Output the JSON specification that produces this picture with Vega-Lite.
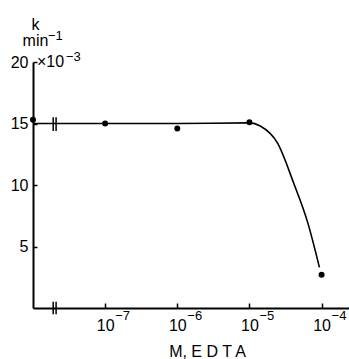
{
  "$schema": "https://vega.github.io/schema/vega-lite/v6.json",
  "width": 316,
  "height": 246,
  "autosize": "none",
  "padding": {"left": 33, "top": 62, "right": 0, "bottom": 51},
  "background": "white",
  "config": {
    "view": {"stroke": null},
    "font": "Liberation Sans",
    "axis": {"domainColor": "black", "tickColor": "black", "labelColor": "black", "titleColor": "black", "grid": false, "labelFont": "Liberation Sans", "titleFont": "Liberation Sans", "titleFontWeight": "normal", "domainWidth": 2}
  },
  "datasets": {
    "points": [
      {"e": -8, "k": 15.3},
      {"e": -7, "k": 15.0},
      {"e": -6, "k": 14.6},
      {"e": -5, "k": 15.1},
      {"e": -4, "k": 2.7}
    ],
    "curve": [
      {"e": -8, "k": 15.0},
      {"e": -7, "k": 15.0},
      {"e": -6, "k": 15.0},
      {"e": -5, "k": 15.05},
      {"e": -4.85, "k": 14.8},
      {"e": -4.61, "k": 13.4},
      {"e": -4.39, "k": 10.2},
      {"e": -4.19, "k": 6.9},
      {"e": -4.03, "k": 3.3}
    ],
    "breaks": [
      {"e": -7.72, "k1": 14.4, "k2": 15.5},
      {"e": -7.68, "k1": 14.4, "k2": 15.5},
      {"e": -7.72, "k1": -0.5, "k2": 0.5},
      {"e": -7.68, "k1": -0.5, "k2": 0.5}
    ],
    "exps": [
      {"e": -7, "k": 0, "t": "−7"},
      {"e": -6, "k": 0, "t": "−6"},
      {"e": -5, "k": 0, "t": "−5"},
      {"e": -4, "k": 0, "t": "−4"}
    ],
    "note": [{"e": -8, "k": 20, "t": "×10", "x": "−3", "u": "−1"}]
  },
  "layer": [
    {
      "data": {"name": "curve"},
      "mark": {"type": "line", "interpolate": "monotone", "color": "black", "strokeWidth": 1.6},
      "encoding": {
        "x": {
          "field": "e", "type": "quantitative",
          "scale": {"domain": [-8, -3.62], "nice": false, "zero": false},
          "axis": {
            "values": [-7, -6, -5, -4],
            "labelExpr": "'10'",
            "tickSize": -5, "tickWidth": 1.5, "labelPadding": 14, "labelFontSize": 16, "labelBaseline": "top",
            "title": "M, E D T A", "titleFontSize": 16, "titleX": 174, "titleY": 48, "titleBaseline": "alphabetic", "titleAlign": "center"
          }
        },
        "y": {
          "field": "k", "type": "quantitative",
          "scale": {"domain": [0, 20], "nice": false},
          "axis": {
            "values": [5, 10, 15, 20],
            "tickSize": -4, "tickWidth": 1.5, "labelPadding": 9, "labelFontSize": 16,
            "title": ["k", "min"], "titleAngle": 0, "titleFontSize": 16, "titleAlign": "center",
            "titleX": 2, "titleY": -33, "titleLineHeight": 16, "titleBaseline": "alphabetic"
          }
        }
      }
    },
    {
      "data": {"name": "points"},
      "mark": {"type": "point", "filled": true, "color": "black", "size": 36, "opacity": 1},
      "encoding": {
        "x": {"field": "e", "type": "quantitative"},
        "y": {"field": "k", "type": "quantitative"}
      }
    },
    {
      "data": {"name": "breaks"},
      "mark": {"type": "rule", "color": "black", "strokeWidth": 1.5},
      "encoding": {
        "x": {"field": "e", "type": "quantitative"},
        "y": {"field": "k1", "type": "quantitative"},
        "y2": {"field": "k2"}
      }
    },
    {
      "data": {"name": "exps"},
      "mark": {"type": "text", "align": "left", "baseline": "alphabetic", "dx": 10, "dy": 12, "fontSize": 13, "font": "Liberation Sans", "color": "black"},
      "encoding": {
        "x": {"field": "e", "type": "quantitative"},
        "y": {"field": "k", "type": "quantitative"},
        "text": {"field": "t"}
      }
    },
    {
      "data": {"name": "note"},
      "mark": {"type": "text", "align": "left", "baseline": "middle", "dx": 4, "fontSize": 16, "font": "Liberation Sans", "color": "black"},
      "encoding": {
        "x": {"field": "e", "type": "quantitative"},
        "y": {"field": "k", "type": "quantitative"},
        "text": {"field": "t"}
      }
    },
    {
      "data": {"name": "note"},
      "mark": {"type": "text", "align": "left", "baseline": "alphabetic", "dx": 33, "dy": -1, "fontSize": 13, "font": "Liberation Sans", "color": "black"},
      "encoding": {
        "x": {"field": "e", "type": "quantitative"},
        "y": {"field": "k", "type": "quantitative"},
        "text": {"field": "x"}
      }
    },
    {
      "data": {"name": "note"},
      "mark": {"type": "text", "align": "left", "baseline": "alphabetic", "dx": 15, "dy": -22, "fontSize": 13, "font": "Liberation Sans", "color": "black"},
      "encoding": {
        "x": {"field": "e", "type": "quantitative"},
        "y": {"field": "k", "type": "quantitative"},
        "text": {"field": "u"}
      }
    }
  ]
}
